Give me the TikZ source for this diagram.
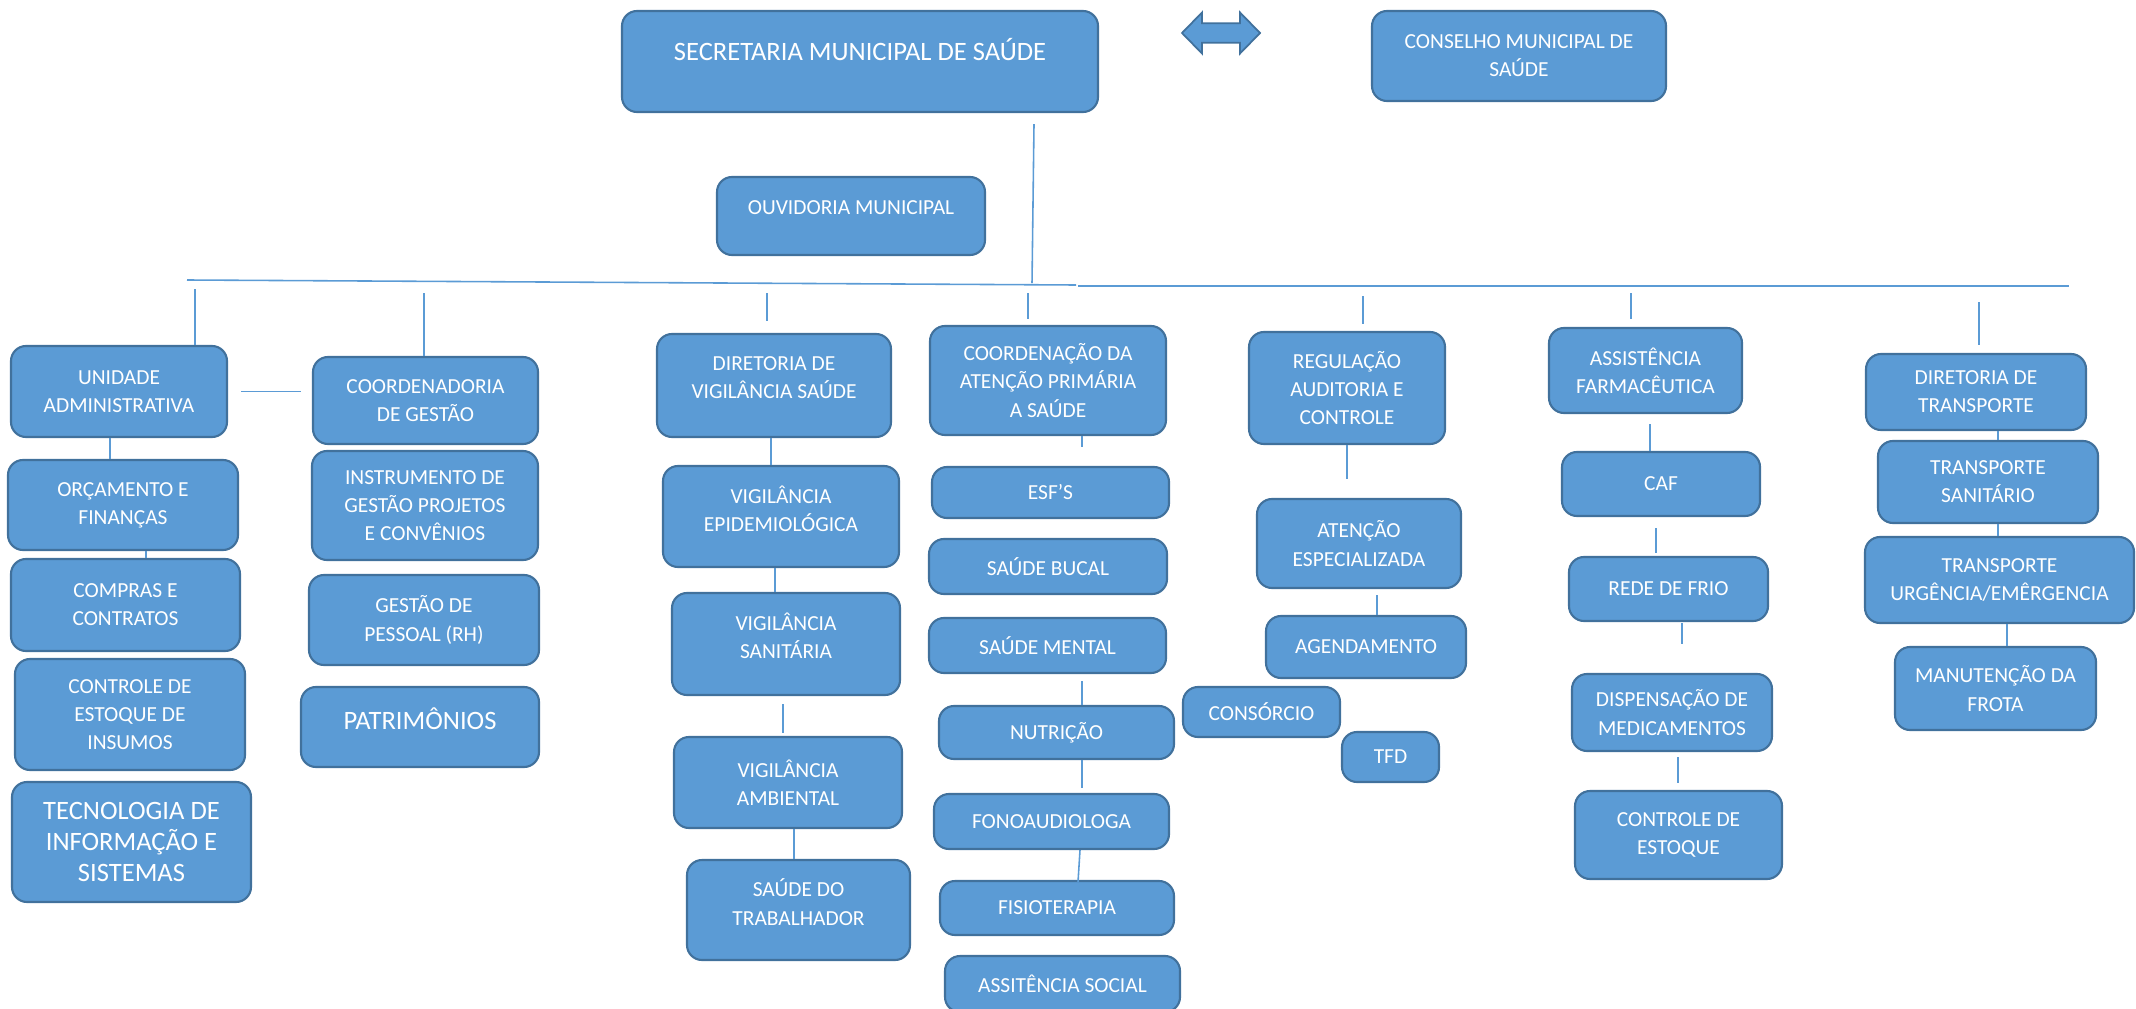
\documentclass[tikz,border=0pt]{standalone}
\usepackage{fontspec}
\setmainfont{Carlito}
\usetikzlibrary{positioning}
\definecolor{boxblue}{RGB}{91,155,213}
\definecolor{edgeblue}{RGB}{65,113,156}
\definecolor{lineblue}{RGB}{91,155,213}
\tikzset{
	unit/.style = {
		rectangle,
		rounded corners = 3mm,
		draw = edgeblue,
		line width = 1.2pt,
		fill = boxblue,
		text = white,
		align = center,
		inner sep = 1mm,
		font = \fontsize{12.2}{16}\selectfont
	},
	bigunit/.style = {
		unit,
		font = \fontsize{15.1}{17.5}\selectfont
	},
	sz/.style 2 args = {
		minimum width = #1*0.2mm,
		minimum height = #2*0.2mm
	},
	lift/.style = {text depth = #1},
	lift/.default = 3.2mm,
	link/.style = {draw = lineblue, line width = 0.9pt}
}

\begin{document}
\begin{tikzpicture}[x=0.2mm, y=-0.2mm]
	\useasboundingbox (0,0) rectangle (2136,1009);
	\clip (0,0) rectangle (2136,1009);

	% topo
	\node[bigunit, sz={476}{101}, lift=5mm] (sms) at (860,61.5) {SECRETARIA MUNICIPAL DE SAÚDE};
	\node[unit, sz={294}{90}]               (cms) at (1519,56)  {CONSELHO MUNICIPAL DE\\SAÚDE};
	\node[unit, sz={268}{78}, lift]         (ouv) at (851,216)  {OUVIDORIA MUNICIPAL};

	\coordinate (seta) at (1221,33);
	\begin{scope}[shift={(seta)}]
		\filldraw[fill=boxblue, draw=edgeblue, line width=1pt]
			(-39,0) -- (-19,-20.5) -- (-19,-9.7) -- (19,-9.7) -- (19,-20.5) -- (39,0)
			-- (19,20.5) -- (19,9.7) -- (-19,9.7) -- (-19,20.5) -- cycle;
	\end{scope}

	% administrativo
	\node[unit, sz={216}{91}]    (uadm) at (119,391.5) {UNIDADE\\ADMINISTRATIVA};
	\node[unit, sz={230}{90}]    (orc)  at (123,505)   {ORÇAMENTO E\\FINANÇAS};
	\node[unit, sz={229}{92}]    (comp) at (125.5,605) {COMPRAS E\\CONTRATOS};
	\node[unit, sz={230}{111}]   (estq) at (130,714.5) {CONTROLE DE\\ESTOQUE DE\\INSUMOS};
	\node[bigunit, sz={239}{120}] (tec) at (131.5,842) {TECNOLOGIA DE\\INFORMAÇÃO E\\SISTEMAS};

	% gestao
	\node[unit, sz={225}{87}]    (cges) at (425.5,400.5) {COORDENADORIA\\DE GESTÃO};
	\node[unit, sz={226}{109}]   (inst) at (425,505.5)   {INSTRUMENTO DE\\GESTÃO PROJETOS\\E CONVÊNIOS};
	\node[unit, sz={230}{90}]    (pess) at (424,620)     {GESTÃO DE\\PESSOAL (RH)};
	\node[bigunit, sz={238}{80}, lift] (patr) at (420,727) {PATRIMÔNIOS};

	% vigilancia
	\node[unit, sz={234}{103}, lift] (dvs)   at (774,385.5) {DIRETORIA DE\\VIGILÂNCIA SAÚDE};
	\node[unit, sz={236}{101}, lift] (vepi)  at (781,516.5) {VIGILÂNCIA\\EPIDEMIOLÓGICA};
	\node[unit, sz={228}{102}, lift] (vsan)  at (786,644)   {VIGILÂNCIA\\SANITÁRIA};
	\node[unit, sz={228}{91}]        (vamb)  at (788,782.5) {VIGILÂNCIA\\AMBIENTAL};
	\node[unit, sz={223}{100}, lift] (strab) at (798.5,910) {SAÚDE DO\\TRABALHADOR};

	% atencao primaria
	\node[unit, sz={236}{109}] (caps)   at (1048,380.5)  {COORDENAÇÃO DA\\ATENÇÃO PRIMÁRIA\\A SAÚDE};
	\node[unit, sz={237}{51}]  (esf)    at (1050.5,492.5) {ESF’S};
	\node[unit, sz={238}{55}]  (bucal)  at (1048,566.5)  {SAÚDE BUCAL};
	\node[unit, sz={237}{55}]  (mental) at (1047.5,645.5) {SAÚDE MENTAL};
	\node[unit, sz={235}{53}]  (nutri)  at (1056.5,732.5) {NUTRIÇÃO};
	\node[unit, sz={235}{55}]  (fono)   at (1051.5,821.5) {FONOAUDIOLOGA};
	\node[unit, sz={234}{54}]  (fisio)  at (1057,908)    {FISIOTERAPIA};
	\node[unit, sz={235}{56}]  (social) at (1062.5,984)  {ASSITÊNCIA SOCIAL};

	% regulacao
	\node[unit, sz={196}{112}] (reg)  at (1347,388)    {REGULAÇÃO\\AUDITORIA E\\CONTROLE};
	\node[unit, sz={204}{89}]  (aesp) at (1359,543.5)  {ATENÇÃO\\ESPECIALIZADA};
	\node[unit, sz={200}{62}]  (agen) at (1366,647)    {AGENDAMENTO};
	\node[unit, sz={157}{50}]  (cons) at (1261.5,712)  {CONSÓRCIO};
	\node[unit, sz={97}{50}]   (tfd)  at (1390.5,757)  {TFD};

	% farmacia
	\node[unit, sz={193}{85}] (afar) at (1645.5,370.5) {ASSISTÊNCIA\\FARMACÊUTICA};
	\node[unit, sz={198}{64}] (caf)  at (1661,484)     {CAF};
	\node[unit, sz={199}{64}] (frio) at (1668.5,589)   {REDE DE FRIO};
	\node[unit, sz={200}{77}] (disp) at (1672,712.5)   {DISPENSAÇÃO DE\\MEDICAMENTOS};
	\node[unit, sz={207}{88}] (cest) at (1678.5,835)   {CONTROLE DE\\ESTOQUE};

	% transporte
	\node[unit, sz={220}{76}] (dtr)   at (1976,392)    {DIRETORIA DE\\TRANSPORTE};
	\node[unit, sz={220}{82}] (tsan)  at (1988,482)    {TRANSPORTE\\SANITÁRIO};
	\node[unit, sz={269}{86}] (turg)  at (1999.5,580)  {TRANSPORTE\\URGÊNCIA/EMÊRGENCIA};
	\node[unit, sz={201}{83}] (frota) at (1995.5,688.5) {MANUTENÇÃO DA\\FROTA};

	% linhas
	\coordinate (busW) at (187,280);
	\coordinate (busC) at (1076,285);
	\coordinate (busE) at (2069,286);
	\draw[link] (busW) -- (busC);
	\draw[link] ([shift={(2,1)}]busC) -- (busE);
	\draw[link] ([shift={(174,11)}]sms.south) -- ++(-2,159);

	\coordinate (d1) at (195,289);
	\coordinate (d2) at (424,293);
	\coordinate (d3) at (767,293);
	\coordinate (d4) at (1028,293);
	\coordinate (d5) at (1363,296);
	\coordinate (d6) at (1631,293);
	\coordinate (d7) at (1979,302);
	\draw[link] (d1) -- (d1 |- uadm.north);
	\draw[link] (d2) -- (d2 |- cges.north);
	\foreach \d/\len in {d3/28, d4/26, d5/28, d6/26, d7/43}
		\draw[link] (\d) -- ++(0,\len);

	\draw[link] ([xshift=2.6mm]uadm.east) -- ([xshift=-2.2mm]uadm.east -| cges.west);
	\draw[link] ([xshift=-1.8mm]uadm.south) -- ([xshift=-1.8mm]uadm.south |- orc.north);
	\draw[link] ([xshift=4.6mm]orc.south) -- ([xshift=4.6mm]orc.south |- comp.north);

	\draw[link] ([xshift=-0.6mm]dvs.south) -- ([xshift=-0.6mm]dvs.south |- vepi.north);
	\draw[link] ([xshift=-1.2mm]vepi.south) -- ([xshift=-1.2mm]vepi.south |- vsan.north);
	\draw[link] ([shift={(-3,8)}]vsan.south) -- ++(0,29);
	\draw[link] ([xshift=1.2mm]vamb.south) -- ([xshift=1.2mm]vamb.south |- strab.north);

	\draw[link] ([shift={(34,0)}]caps.south) -- ++(0,11);
	\draw[link] ([shift={(34.5,7)}]mental.south) -- ([xshift=6.9mm]mental.south |- nutri.north);
	\draw[link] ([shift={(25.5,0)}]nutri.south) -- ++(0,28);
	\draw[link] ([shift={(28.5,0)}]fono.south) -- ++(-2,32);

	\draw[link] (reg.south) -- ++(0,34);
	\draw[link] ([shift={(18,6)}]aesp.south) -- ([xshift=3.6mm]aesp.south |- agen.north);

	\draw[link] ([shift={(4.5,10)}]afar.south) -- ([xshift=0.9mm]afar.south |- caf.north);
	\draw[link] ([shift={(-5,11)}]caf.south) -- ++(0,25);
	\draw[link] ([shift={(13.5,1)}]frio.south) -- ++(0,21);
	\draw[link] ([shift={(6,5)}]disp.south) -- ++(0,26);

	\draw[link] ([xshift=4.4mm]dtr.south) -- ([xshift=4.4mm]dtr.south |- tsan.north);
	\draw[link] ([xshift=2mm]tsan.south) -- ([xshift=2mm]tsan.south |- turg.north);
	\draw[link] ([xshift=1.5mm]turg.south) -- ([xshift=1.5mm]turg.south |- frota.north);
\end{tikzpicture}
\end{document}
